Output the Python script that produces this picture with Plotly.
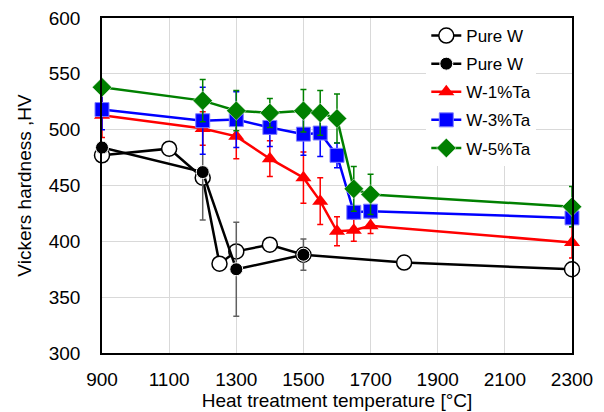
import plotly.graph_objects as go

# Pure W (open circles)
pw_open_t = [900, 1100, 1200, 1250, 1300, 1400, 1500, 1800, 2300]
pw_open_hv = [477, 483, 457, 380, 391, 397, 388, 381, 375]

# Pure W (filled circles)
pw_fill_t = [900, 1200, 1300, 1500]
pw_fill_hv = [484, 462, 375, 388]
pw_fill_err = [0, 43, 42, 14]

temps = [900, 1200, 1300, 1400, 1500, 1550, 1600, 1650, 1700, 2300]
ta1_hv = [513, 501, 494, 474, 457, 436, 409, 410, 414, 399]
ta1_err = [20, 15, 20, 16, 23, 21, 13, 10, 7, 14]
ta3_hv = [518, 508, 509, 502, 496, 497, 477, 426, 427, 421]
ta3_err = [18, 30, 25, 17, 19, 21, 11, 5, 5, 5]
ta5_hv = [538, 526, 517, 515, 517, 515, 510, 447, 442, 431]
ta5_err = [5, 19, 18, 13, 19, 20, 22, 20, 18, 18]

x_ticks = [900, 1100, 1300, 1500, 1700, 1900, 2100, 2300]
y_ticks = [300, 350, 400, 450, 500, 550, 600]

fig = go.Figure()

fig.add_trace(go.Scatter(
    x=pw_open_t, y=pw_open_hv, name="Pure W", mode="lines+markers",
    legendgroup="a", cliponaxis=False,
    line=dict(color="black", width=2.5),
    marker=dict(symbol="circle", size=15, color="white", line=dict(color="black", width=1.5)),
))
fig.add_trace(go.Scatter(
    x=pw_fill_t, y=pw_fill_hv, name="Pure W", mode="lines+markers",
    legendgroup="b", cliponaxis=False,
    line=dict(color="black", width=2.5),
    marker=dict(symbol="circle", size=13, color="black", line=dict(color="white", width=1)),
    error_y=dict(type="data", array=pw_fill_err, color="#606060", thickness=1.5, width=3),
))
fig.add_trace(go.Scatter(
    x=temps, y=ta1_hv, name="W-1%Ta", mode="lines+markers",
    legendgroup="c", cliponaxis=False,
    line=dict(color="red", width=2.5),
    marker=dict(symbol="triangle-up", size=14, color="red"),
    error_y=dict(type="data", array=ta1_err, color="red", thickness=1.5, width=3),
))
fig.add_trace(go.Scatter(
    x=temps, y=ta3_hv, name="W-3%Ta", mode="lines+markers",
    legendgroup="d", cliponaxis=False,
    line=dict(color="blue", width=2.5),
    marker=dict(symbol="square", size=14, color="blue", line=dict(color="#8080ff", width=1)),
    error_y=dict(type="data", array=ta3_err, color="blue", thickness=1.5, width=3),
))
fig.add_trace(go.Scatter(
    x=temps, y=ta5_hv, name="W-5%Ta", mode="lines+markers",
    legendgroup="e", cliponaxis=False,
    line=dict(color="green", width=2.5),
    marker=dict(symbol="diamond", size=15, color="green", line=dict(color="white", width=0.5)),
    error_y=dict(type="data", array=ta5_err, color="green", thickness=1.5, width=3),
))

fig.update_layout(
    width=604, height=412,
    margin=dict(l=94, r=40, t=10, b=67, autoexpand=False),
    paper_bgcolor="white", plot_bgcolor="white",
    font=dict(family="Liberation Sans, Arial, sans-serif", size=19, color="black"),
    legend=dict(
        x=0.69, y=1.0, xanchor="left", yanchor="top",
        bgcolor="white", font=dict(size=17),
        itemwidth=30, tracegroupgap=3,
    ),
    showlegend=True,
)
fig.update_xaxes(
    range=[900, 2300], tickvals=x_ticks, ticktext=[str(v) for v in x_ticks],
    showgrid=True, gridcolor="#d9d9d9", gridwidth=1,
    showline=True, linecolor="black", linewidth=1.5, mirror=True,
    zeroline=False, ticks="", tickfont=dict(size=19), ticklabelstandoff=8,
    ticklabeloverflow="allow", automargin=False,
    title=dict(text="Heat treatment temperature [°C]", font=dict(size=19), standoff=2),
)
fig.update_yaxes(
    range=[300, 600], tickvals=y_ticks, ticktext=[str(v) for v in y_ticks],
    showgrid=True, gridcolor="#d9d9d9", gridwidth=1,
    showline=True, linecolor="black", linewidth=1.5, mirror=True,
    zeroline=False, ticks="", tickfont=dict(size=19), ticklabelstandoff=16,
    ticklabeloverflow="allow", automargin=False,
    title=dict(text="Vickers hardness ,HV", font=dict(size=19), standoff=12),
)

fig.write_html("out.html")
